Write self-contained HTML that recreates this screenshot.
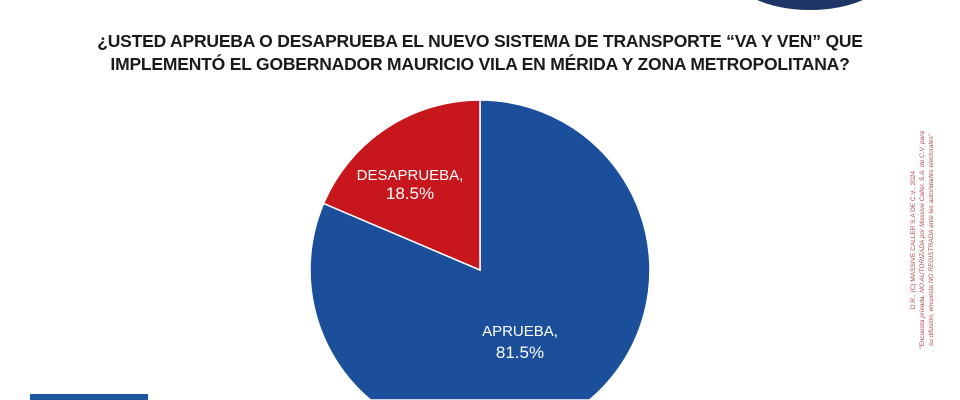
<!DOCTYPE html>
<html><head><meta charset="utf-8"><style>
body{margin:0;width:960px;height:400px;background:#fff;overflow:hidden;position:relative;font-family:"Liberation Sans",sans-serif}
.t{position:absolute;left:0;width:960px;top:30px;text-align:center;font-family:"Liberation Sans Narrow","Liberation Sans",sans-serif;font-weight:bold;font-size:17.5px;line-height:23px;color:#1a1a1a;letter-spacing:-0.2px}
</style></head><body>
<svg width="960" height="400" viewBox="0 0 960 400" style="position:absolute;left:0;top:0;overflow:hidden">
<ellipse cx="810" cy="-30" rx="80" ry="40" fill="#1f3568"/>
<rect x="30" y="394" width="118" height="6" fill="#1f56a0"/>
<path d="M480,270 L480,100 A170,170 0 0,1 589.5,400 L370.5,400 A170,170 0 0,1 323.6,203.4 Z" fill="#1b4f9c" stroke="#fff" stroke-width="1.5"/>
<path d="M480,270 L323.6,203.4 A170,170 0 0,1 480,100 Z" fill="#c8161d" stroke="#fff" stroke-width="1.5"/>
<text x="410" y="180" fill="#fff" font-size="15" text-anchor="middle" font-family="Liberation Sans">DESAPRUEBA,</text>
<text x="410" y="199" fill="#fff" font-size="17" text-anchor="middle" font-family="Liberation Sans">18.5%</text>
<text x="520" y="336" fill="#fff" font-size="15" text-anchor="middle" font-family="Liberation Sans">APRUEBA,</text>
<text x="520" y="358" fill="#fff" font-size="17" text-anchor="middle" font-family="Liberation Sans">81.5%</text>
<g transform="translate(915,240) rotate(-90)" fill="#b04550" font-size="6.5" text-anchor="middle" font-family="Liberation Sans">
<text x="0" y="0">D.R., (C) MASSIVE CALLER S.A DE C.V., 2024</text>
<text x="0" y="9" font-style="italic">"Encuesta privada, NO AUTORIZADA por Massive Caller, S.A. de C.V. para</text>
<text x="0" y="18" font-style="italic">su difusión, encuesta NO REGISTRADA ante las autoridades electorales"</text>
</g>
</svg>
<div class="t">¿USTED APRUEBA O DESAPRUEBA EL NUEVO SISTEMA DE TRANSPORTE “VA Y VEN” QUE<br>IMPLEMENTÓ EL GOBERNADOR MAURICIO VILA EN MÉRIDA Y ZONA METROPOLITANA?</div>
</body></html>
